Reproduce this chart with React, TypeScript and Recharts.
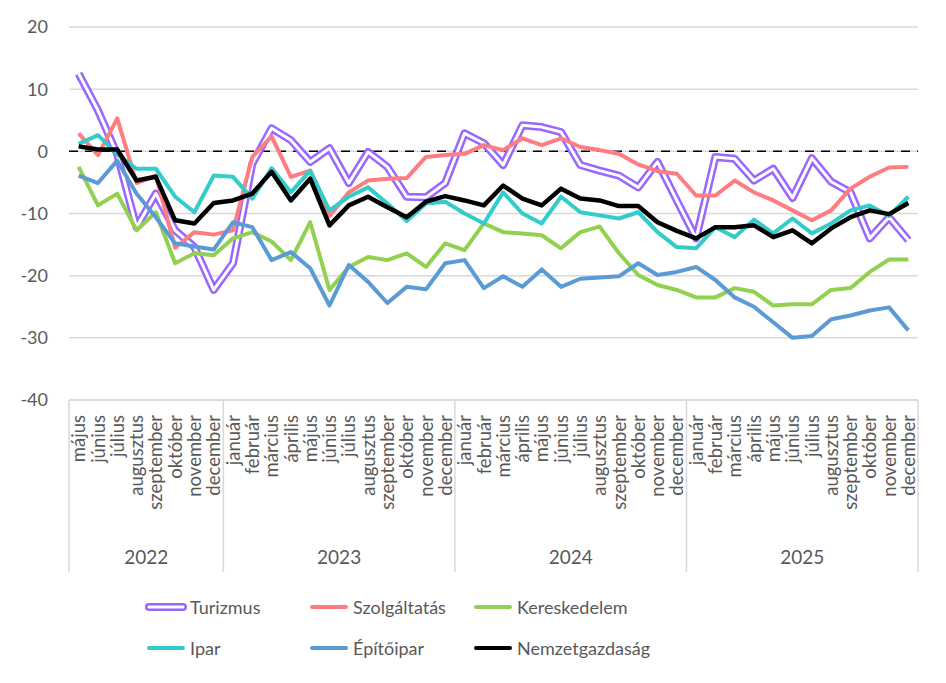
import { LineChart, Line, XAxis, YAxis, CartesianGrid, ReferenceLine } from 'recharts';

const monthNames = ['január', 'február', 'március', 'április', 'május', 'június', 'július', 'augusztus', 'szeptember', 'október', 'november', 'december'];
const years = ['2022', '2023', '2024', '2025'];
const firstMonthOfYear = [4, 0, 0, 0];

const turizmus = [12.5, 6.6, -0.5, -12.2, -6.8, -12.7, -15.4, -22.3, -18.0, -2.0, 3.7, 1.8, -1.7, 0.5, -5.1, -0.1, -2.5, -7.3, -7.4, -5.1, 2.9, 1.3, -2.2, 4.2, 3.9, 3.1, -2.2, -3.1, -3.9, -5.8, -1.7, -7.9, -14.0, -0.9, -1.2, -4.7, -2.8, -7.5, -1.1, -4.9, -6.6, -14.0, -10.6, -14.3];
const szolgaltatas = [2.9, -0.6, 5.3, -5.1, -3.9, -15.5, -13.0, -13.4, -12.7, -0.9, 2.4, -4.1, -3.1, -10.4, -6.6, -4.7, -4.4, -4.3, -0.9, -0.6, -0.4, 1.0, 0.2, 2.1, 1.0, 2.1, 0.7, 0.2, -0.4, -2.1, -3.2, -3.6, -7.1, -7.1, -4.7, -6.6, -7.9, -9.5, -11.1, -9.5, -6.0, -4.1, -2.6, -2.5];
const kereskedelem = [-2.5, -8.7, -6.8, -12.7, -9.8, -18.0, -16.4, -16.7, -14.0, -13.0, -14.5, -17.5, -11.4, -22.3, -18.6, -17.0, -17.5, -16.4, -18.6, -14.8, -15.9, -11.6, -13.0, -13.2, -13.5, -15.6, -13.0, -12.1, -16.4, -19.9, -21.5, -22.3, -23.5, -23.5, -22.0, -22.6, -24.8, -24.6, -24.6, -22.3, -22.0, -19.4, -17.4, -17.4];
const ipar = [1.2, 2.6, -0.5, -2.8, -2.8, -7.3, -9.8, -3.9, -4.1, -7.6, -2.7, -6.6, -3.1, -9.5, -7.3, -5.8, -8.4, -11.2, -8.4, -8.1, -10.0, -11.6, -6.6, -10.0, -11.6, -7.3, -9.8, -10.3, -10.8, -9.8, -13.0, -15.4, -15.6, -12.2, -13.8, -11.0, -13.2, -10.8, -13.2, -11.6, -9.5, -8.7, -10.4, -7.3];
const epitoipar = [-3.9, -5.1, -1.5, -6.8, -10.6, -14.8, -15.3, -15.8, -11.4, -12.2, -17.5, -16.2, -18.8, -24.8, -18.3, -21.0, -24.4, -21.8, -22.2, -18.0, -17.5, -22.0, -20.1, -21.8, -19.0, -21.8, -20.5, -20.3, -20.1, -18.0, -19.9, -19.4, -18.6, -20.7, -23.5, -25.0, -27.5, -30.0, -29.7, -27.0, -26.4, -25.6, -25.1, -28.8];
const nemzetgazdasag = [0.8, 0.3, 0.3, -4.7, -4.1, -11.1, -11.6, -8.3, -7.9, -6.8, -3.3, -7.9, -4.4, -11.9, -8.7, -7.3, -9.0, -10.6, -8.1, -7.2, -7.9, -8.7, -5.5, -7.6, -8.7, -6.0, -7.6, -7.9, -8.8, -8.8, -11.4, -12.8, -14.0, -12.2, -12.2, -11.9, -13.8, -12.7, -14.8, -12.4, -10.6, -9.5, -10.1, -8.3];

const yTicks = [-40, -30, -20, -10, 0, 10, 20];

// categories: one per month, with the year group they belong to
const categories: { month: string; year: string; first: boolean; span: number }[] = [];
years.forEach((year, yi) => {
  const span = 12 - firstMonthOfYear[yi];
  for (let m = firstMonthOfYear[yi]; m < 12; m++) {
    categories.push({ month: monthNames[m], year, first: m === firstMonthOfYear[yi], span });
  }
});

const data = categories.map((c, i) => ({
  key: `${c.year}-${c.month}`,
  month: c.month,
  Turizmus: turizmus[i],
  Szolgáltatás: szolgaltatas[i],
  Kereskedelem: kereskedelem[i],
  Ipar: ipar[i],
  Építőipar: epitoipar[i],
  Nemzetgazdaság: nemzetgazdasag[i],
}));

const FONT = 'Lato, "Open Sans", sans-serif';
const TEXT = '#595959';
const GRID = '#d9d9d9';

const W = 930;
const H = 580;
const M = { top: 19, right: 20, left: 9, bottom: 8 };
const Y_W = 52;
const X_H = 180;
const PLOT_LEFT = M.left + Y_W;
const PLOT_BOTTOM = H - M.bottom - X_H;
const BAND = (W - M.right - PLOT_LEFT) / categories.length;

const MonthTick = (props: any) => {
  const { x, y, payload } = props;
  const i = payload.index;
  const c = categories[i];
  if (!c) return null;
  return (
    <g>
      <text x={x} y={y} transform={`rotate(-90, ${x}, ${y})`} textAnchor="end" dy="0.36em" fill={TEXT} fontSize={18.5} fontFamily={FONT}>
        {c.month}
      </text>
      {c.first && (
        <>
          <line x1={x - BAND / 2} x2={x - BAND / 2} y1={PLOT_BOTTOM} y2={PLOT_BOTTOM + 172} stroke={GRID} strokeWidth={1.5} />
          <text x={x - BAND / 2 + (c.span * BAND) / 2} y={PLOT_BOTTOM + 157} dy="0.35em" textAnchor="middle" fill={TEXT} fontSize={19} fontFamily={FONT}>
            {c.year}
          </text>
        </>
      )}
      {i === categories.length - 1 && (
        <line x1={x + BAND / 2} x2={x + BAND / 2} y1={PLOT_BOTTOM} y2={PLOT_BOTTOM + 172} stroke={GRID} strokeWidth={1.5} />
      )}
    </g>
  );
};

const legendItems = [
  { name: 'Turizmus', color: '#9966ff', double: true },
  { name: 'Szolgáltatás', color: '#ff7c80' },
  { name: 'Kereskedelem', color: '#92d050' },
  { name: 'Ipar', color: '#33cccc' },
  { name: 'Építőipar', color: '#5b9bd5' },
  { name: 'Nemzetgazdaság', color: '#000000' },
];
const legendCols = [137, 300, 464];
const legendRows = [599, 640];

export default function App() {
  return (
    <div style={{ position: 'relative', width: W, height: 667, fontFamily: FONT }}>
      <LineChart width={W} height={H} data={data} margin={M}>
        <CartesianGrid vertical={false} stroke={GRID} strokeWidth={1.5} />
        <XAxis
          dataKey="key"
          scale="band"
          interval={0}
          height={X_H}
          tick={MonthTick}
          tickLine={false}
          tickSize={0}
          tickMargin={15}
          axisLine={{ stroke: GRID, strokeWidth: 1.5 }}
        />
        <YAxis
          width={Y_W}
          domain={[-40, 20]}
          ticks={yTicks}
          tickLine={false}
          axisLine={false}
          tickSize={0}
          tickMargin={21}
          tick={{ fill: TEXT, fontSize: 18, fontFamily: FONT }}
        />
        <ReferenceLine y={0} stroke="#000" strokeWidth={1.5} strokeDasharray="9 7" />
        <Line dataKey="Turizmus" stroke="#9966ff" strokeWidth={8} dot={false} activeDot={false} isAnimationActive={false} strokeLinejoin="round" />
        <Line dataKey="Turizmus" stroke="#ffffff" strokeWidth={3} dot={false} activeDot={false} isAnimationActive={false} strokeLinejoin="round" legendType="none" />
        <Line dataKey="Szolgáltatás" stroke="#ff7c80" strokeWidth={4} dot={false} activeDot={false} isAnimationActive={false} strokeLinejoin="round" />
        <Line dataKey="Kereskedelem" stroke="#92d050" strokeWidth={4} dot={false} activeDot={false} isAnimationActive={false} strokeLinejoin="round" />
        <Line dataKey="Ipar" stroke="#33cccc" strokeWidth={4} dot={false} activeDot={false} isAnimationActive={false} strokeLinejoin="round" />
        <Line dataKey="Építőipar" stroke="#5b9bd5" strokeWidth={4} dot={false} activeDot={false} isAnimationActive={false} strokeLinejoin="round" />
        <Line dataKey="Nemzetgazdaság" stroke="#000000" strokeWidth={4.5} dot={false} activeDot={false} isAnimationActive={false} strokeLinejoin="round" />
      </LineChart>
      {legendItems.map((item, i) => (
        <div
          key={item.name}
          style={{
            position: 'absolute',
            left: legendCols[i % 3],
            top: legendRows[Math.floor(i / 3)] - 12,
            height: 24,
            display: 'flex',
            alignItems: 'center',
            color: TEXT,
            fontSize: 18,
          }}
        >
          <svg width={42} height={10} style={{ marginRight: 3 }}>
            <line x1={4} x2={38} y1={5} y2={5} stroke={item.color} strokeWidth={item.double ? 8 : 4} strokeLinecap="round" />
            {item.double && <line x1={4} x2={38} y1={5} y2={5} stroke="#fff" strokeWidth={3} strokeLinecap="round" />}
          </svg>
          <span>{item.name}</span>
        </div>
      ))}
    </div>
  );
}
